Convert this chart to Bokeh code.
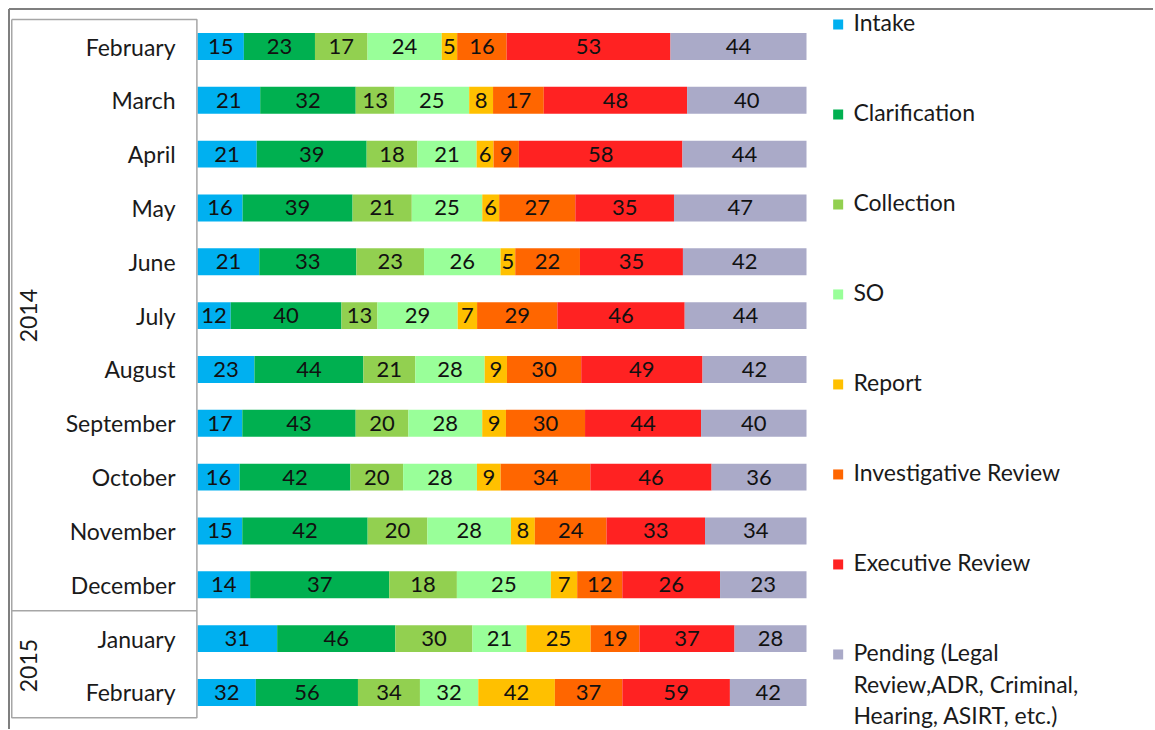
import numpy as np
from bokeh.plotting import figure
from bokeh.models import Range1d, ColumnDataSource
from bokeh.core.properties import value
from bokeh.embed import file_html
from bokeh.resources import INLINE

# ---------------- data ----------------
years = ["2014"] * 11 + ["2015"] * 2
months = ["February", "March", "April", "May", "June", "July", "August",
          "September", "October", "November", "December", "January", "February"]
series = ["Intake", "Clarification", "Collection", "SO", "Report",
          "Investigative Review", "Executive Review",
          "Pending (Legal\nReview,ADR,  Criminal,\nHearing, ASIRT, etc.)"]
intake        = [15, 21, 21, 16, 21, 12, 23, 17, 16, 15, 14, 31, 32]
clarification = [23, 32, 39, 39, 33, 40, 44, 43, 42, 42, 37, 46, 56]
collection    = [17, 13, 18, 21, 23, 13, 21, 20, 20, 20, 18, 30, 34]
so            = [24, 25, 21, 25, 26, 29, 28, 28, 28, 28, 25, 21, 32]
report        = [5, 8, 6, 6, 5, 7, 9, 9, 9, 8, 7, 25, 42]
investigative = [16, 17, 9, 27, 22, 29, 30, 30, 34, 24, 12, 19, 37]
executive     = [53, 48, 58, 35, 35, 46, 49, 44, 46, 33, 26, 37, 59]
pending       = [44, 40, 44, 47, 42, 44, 42, 40, 36, 34, 23, 28, 42]
colors = ["#00B0F0", "#00B050", "#92D050", "#99FF99", "#FFC000",
          "#FF6600", "#FF2222", "#AAAAC8"]

values = np.array([intake, clarification, collection, so, report,
                   investigative, executive, pending], dtype=float)

# ---------------- layout ----------------
W, H = 1153, 729
px_per_pct = 6.09
x0_px = 197
row_px = 53.83
row0_px = 46
x_rng = Range1d(-x0_px / px_per_pct, (W - x0_px) / px_per_pct)
y_rng = Range1d((H - row0_px) / row_px, -row0_px / row_px)

p = figure(width=W, height=H, x_range=x_rng, y_range=y_rng,
           output_backend="svg", toolbar_location=None,
           x_axis_location=None, y_axis_location=None, min_border=0)
p.grid.visible = False
p.outline_line_color = None
p.background_fill_color = "white"

FONT = value("Lato")
TXT = "#1A1A1A"
rows = np.arange(len(months))

totals = values.sum(axis=0)
pct = values / totals * 100.0
right = np.cumsum(pct, axis=0)
left = right - pct

for k in range(len(series)):
    src = ColumnDataSource(dict(y=rows, left=left[k], right=right[k],
                                mid=(left[k] + right[k]) / 2,
                                lab=[str(int(v)) for v in values[k]]))
    p.hbar(y="y", left="left", right="right", height=0.5, source=src,
           fill_color=colors[k], line_color=None)
    p.text(x="mid", y="y", text="lab", source=src, text_align="center",
           text_baseline="middle", text_font=FONT, text_font_size="22px",
           text_color="#111111")

# month labels
p.text(x=[-3.6] * len(months), y=rows, text=months, text_align="right",
       text_baseline="middle", text_font=FONT, text_font_size="23px",
       text_color=TXT)

# year group labels
uy = ["2014", "2015"]
ycent = [float(np.mean([r for r, yy in zip(rows, years) if yy == u])) for u in uy]
p.text(x=[-27.75] * 2, y=ycent, text=uy, angle=np.pi / 2, text_align="center",
       text_baseline="middle", text_font=FONT, text_font_size="23px",
       text_color=TXT)

# category box
bl, br = -30.5, -0.1
p.multi_line(xs=[[bl, br, br, bl, bl], [bl, br]],
             ys=[[-0.5, -0.5, 12.47, 12.47, -0.5], [10.48, 10.48]],
             line_color="#A6A6A6", line_width=1.5)
# outer frame (top / left)
ox = (8.5 - x0_px) / px_per_pct
oy = (8.5 - row0_px) / row_px
p.line(x=[ox, x_rng.end + 1], y=[oy, oy], line_color="#7F7F7F", line_width=2)
p.line(x=[ox, ox], y=[oy, y_rng.start + 1], line_color="#7F7F7F", line_width=2)

# legend
leg_y = -0.41 + 1.672 * np.arange(len(series))
p.scatter(x=[105.2] * len(series), y=leg_y, marker="square", size=10,
          fill_color=colors, line_color=None)
p.text(x=[107.7] * len(series), y=leg_y - 0.30, text=series,
       text_align="left", text_baseline="top", text_font=FONT,
       text_font_size="23px", text_color=TXT, text_line_height=1.12)

open("out.html", "w").write(file_html(p, INLINE))
